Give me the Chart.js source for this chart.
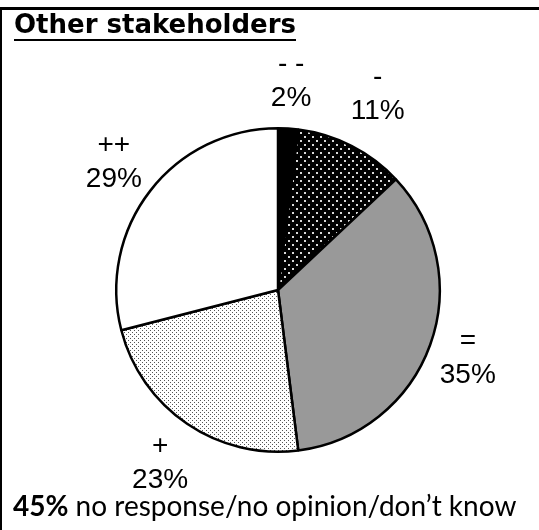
<!DOCTYPE html>
<html>
<head>
<meta charset="utf-8">
<script src="https://cdn.jsdelivr.net/npm/chart.js@4.4.0/dist/chart.umd.min.js"></script>
<style>
  body { margin: 0; background: #fff; }
  #wrap { position: relative; width: 539px; height: 530px; overflow: hidden; }
  #frame { position: absolute; left: 0; top: 7px; width: 600px; height: 600px; border-top: 3px solid #000; border-left: 2px solid #000; box-sizing: border-box; }
  #title { position: absolute; left: 14px; top: 10px; font-family: "DejaVu Sans", sans-serif; font-weight: bold; font-size: 26px; line-height: 29px; }
  #title span { display: inline-block; border-bottom: 2px solid #000; }
  #note { position: absolute; left: 13px; top: 488px; font-family: Lato, sans-serif; font-size: 28px; line-height: 34px; white-space: nowrap; }
  canvas { position: absolute; left: 0; top: 0; }
</style>
</head>
<body>
<div id="wrap">
  <div id="frame"></div>
  <canvas id="pieChart" width="539" height="530"></canvas>
  <div id="title"><span>Other stakeholders</span></div>
  <div id="note"><b>45%</b> no response/no opinion/don’t know</div>
</div>
<script>
// Data
var categories = ['- -', '-', '=', '+', '++'];
var shares = [2, 11, 35, 23, 29];

// extra distance of each label from the pie edge (layout)
var labelGap = [47, 58, 40, 48, 46];

// Function for building a dotted fill pattern
function dotPattern(bg, dot, step, size) {
    var c = document.createElement('canvas');
    c.width = step * 2;
    c.height = step * 2;
    var g = c.getContext('2d');
    g.fillStyle = bg;
    g.fillRect(0, 0, c.width, c.height);
    g.fillStyle = dot;
    g.fillRect(0, 0, size, size);
    g.fillRect(step, step, size, size);
    return g.createPattern(c, 'repeat');
}

var ctx = document.getElementById('pieChart').getContext('2d');

var fills = [
    '#000000',
    dotPattern('#000000', '#d8d8d8', 4, 2),
    '#999999',
    dotPattern('#ffffff', '#555555', 2, 1),
    '#ffffff'
];

// Plugin for the labels outside the slices
var outsideLabels = {
    id: 'outsideLabels',
    afterDatasetsDraw: function(chart) {
        var c = chart.ctx;
        var arcs = chart.getDatasetMeta(0).data;
        c.save();
        c.fillStyle = '#000';
        c.font = '28px "Liberation Sans", Arial, sans-serif';
        c.textAlign = 'center';
        c.textBaseline = 'middle';
        arcs.forEach(function(arc, i) {
            var p = arc.getProps(['x', 'y', 'startAngle', 'endAngle', 'outerRadius'], true);
            var mid = (p.startAngle + p.endAngle) / 2;
            var r = p.outerRadius + labelGap[i];
            var x = p.x + Math.cos(mid) * r;
            var y = p.y + Math.sin(mid) * r;
            c.fillText(categories[i], x, y - 17);
            c.fillText(shares[i] + '%', x, y + 17);
        });
        c.restore();
    }
};

var pieChart = new Chart(ctx, {
    type: 'pie',
    data: {
        labels: categories,
        datasets: [{
            data: shares,
            backgroundColor: fills,
            borderColor: '#000000',
            borderWidth: 2.5
        }]
    },
    options: {
        responsive: false,
        animation: false,
        layout: {
            padding: { left: 115, right: 98, top: 127, bottom: 77 }
        },
        plugins: {
            legend: { display: false },
            tooltip: { enabled: false }
        }
    },
    plugins: [outsideLabels]
});
</script>
</body>
</html>
